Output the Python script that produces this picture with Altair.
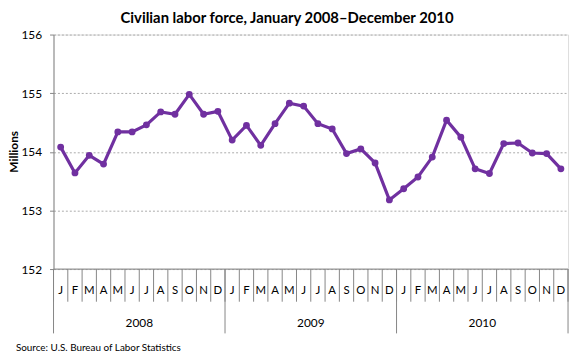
import altair as alt
import pandas as pd

months = ["J", "F", "M", "A", "M", "J", "J", "A", "S", "O", "N", "D"] * 3
years = ["2008", "2009", "2010"]
values = [154.08, 153.64, 153.94, 153.79, 154.34, 154.34, 154.46, 154.68, 154.64, 154.98, 154.64, 154.69,
          154.20, 154.45, 154.11, 154.48, 154.83, 154.78, 154.48, 154.39, 153.97, 154.05, 153.81, 153.18,
          153.37, 153.57, 153.91, 154.54, 154.25, 153.71, 153.63, 154.14, 154.15, 153.98, 153.97, 153.71]
y_ticks = [152, 153, 154, 155, 156]
title_text = "Civilian labor force, January 2008\u2013December 2010"
y_title = "Millions"
source_text = "Source: U.S. Bureau of Labor Statistics"

W, H = 520, 237
FONT = "Lato"
PURPLE = "#7030A0"
GRAY = "#868686"

n = len(values)
df = pd.DataFrame({"x": list(range(n)), "value": values, "month": months})
sep_df = pd.DataFrame({"x": [i - 0.5 for i in range(n + 1)]})
year_sep_df = pd.DataFrame({"x": [i * 12 - 0.5 for i in range(len(years) + 1)]})
year_df = pd.DataFrame({"x": [i * 12 + 5.5 for i in range(len(years))], "year": years})

xs = alt.Scale(domain=[-0.5, n - 0.5], nice=False, zero=False)
x_enc = alt.X("x:Q", scale=xs, axis=None)
ys = alt.Scale(domain=[152, 156], nice=False, zero=False)

base = alt.Chart(df)

line = base.mark_line(color=PURPLE, strokeWidth=3.2).encode(
    x=x_enc,
    y=alt.Y("value:Q", scale=ys, axis=alt.Axis(
        values=y_ticks, format="d", title=None, tickSize=4, labelPadding=8,
        grid=True, gridDash=[2, 2], gridColor="#AAAAAA", gridWidth=1,
        domainColor=GRAY, tickColor=GRAY, labelFont=FONT, labelFontSize=12,
        labelColor="#000000")),
)
points = base.mark_circle(color=PURPLE, size=48, opacity=1).encode(x=x_enc, y=alt.Y("value:Q", scale=ys))

month_text = base.mark_text(font=FONT, fontSize=11.5, color="#000000").encode(
    x=x_enc, y=alt.value(H + 22), text="month:N")

month_sep = alt.Chart(sep_df).mark_rule(color=GRAY, strokeWidth=1).encode(
    x=x_enc, y=alt.value(H), y2=alt.value(H + 33))
year_sep = alt.Chart(year_sep_df).mark_rule(color=GRAY, strokeWidth=1).encode(
    x=x_enc, y=alt.value(H), y2=alt.value(H + 65))
year_text = alt.Chart(year_df).mark_text(font=FONT, fontSize=12, color="#000000").encode(
    x=x_enc, y=alt.value(H + 55), text="year:N")

bottom_line = alt.Chart(pd.DataFrame({"a": [0]})).mark_rule(color=GRAY, strokeWidth=1).encode(
    x=alt.value(0), x2=alt.value(W), y=alt.value(H))

title = alt.Chart(pd.DataFrame({"t": [title_text]})).mark_text(
    font=FONT, fontSize=15, fontWeight="bold", color="#000000", align="center", baseline="middle").encode(
    x=alt.value(236), y=alt.value(-17), text="t:N")

ytitle = alt.Chart(pd.DataFrame({"t": [y_title]})).mark_text(
    font=FONT, fontSize=12, fontWeight="bold", color="#000000", angle=270, align="center", baseline="middle").encode(
    x=alt.value(-40), y=alt.value(H / 2), text="t:N")

source = alt.Chart(pd.DataFrame({"t": [source_text]})).mark_text(
    font=FONT, fontSize=10, color="#000000", align="left", baseline="middle").encode(
    x=alt.value(-38), y=alt.value(H + 80), text="t:N")

chart = alt.layer(
    month_sep, year_sep, bottom_line, line, points, month_text, year_text, title, ytitle, source
).properties(
    width=W, height=H,
    autosize=alt.AutoSizeParams(type="none"),
    padding={"left": 46, "top": 25, "right": 4, "bottom": 84},
).configure_view(stroke=None).configure(background="white")

chart.save("out.html", embed_options={"renderer": "svg", "actions": False})
